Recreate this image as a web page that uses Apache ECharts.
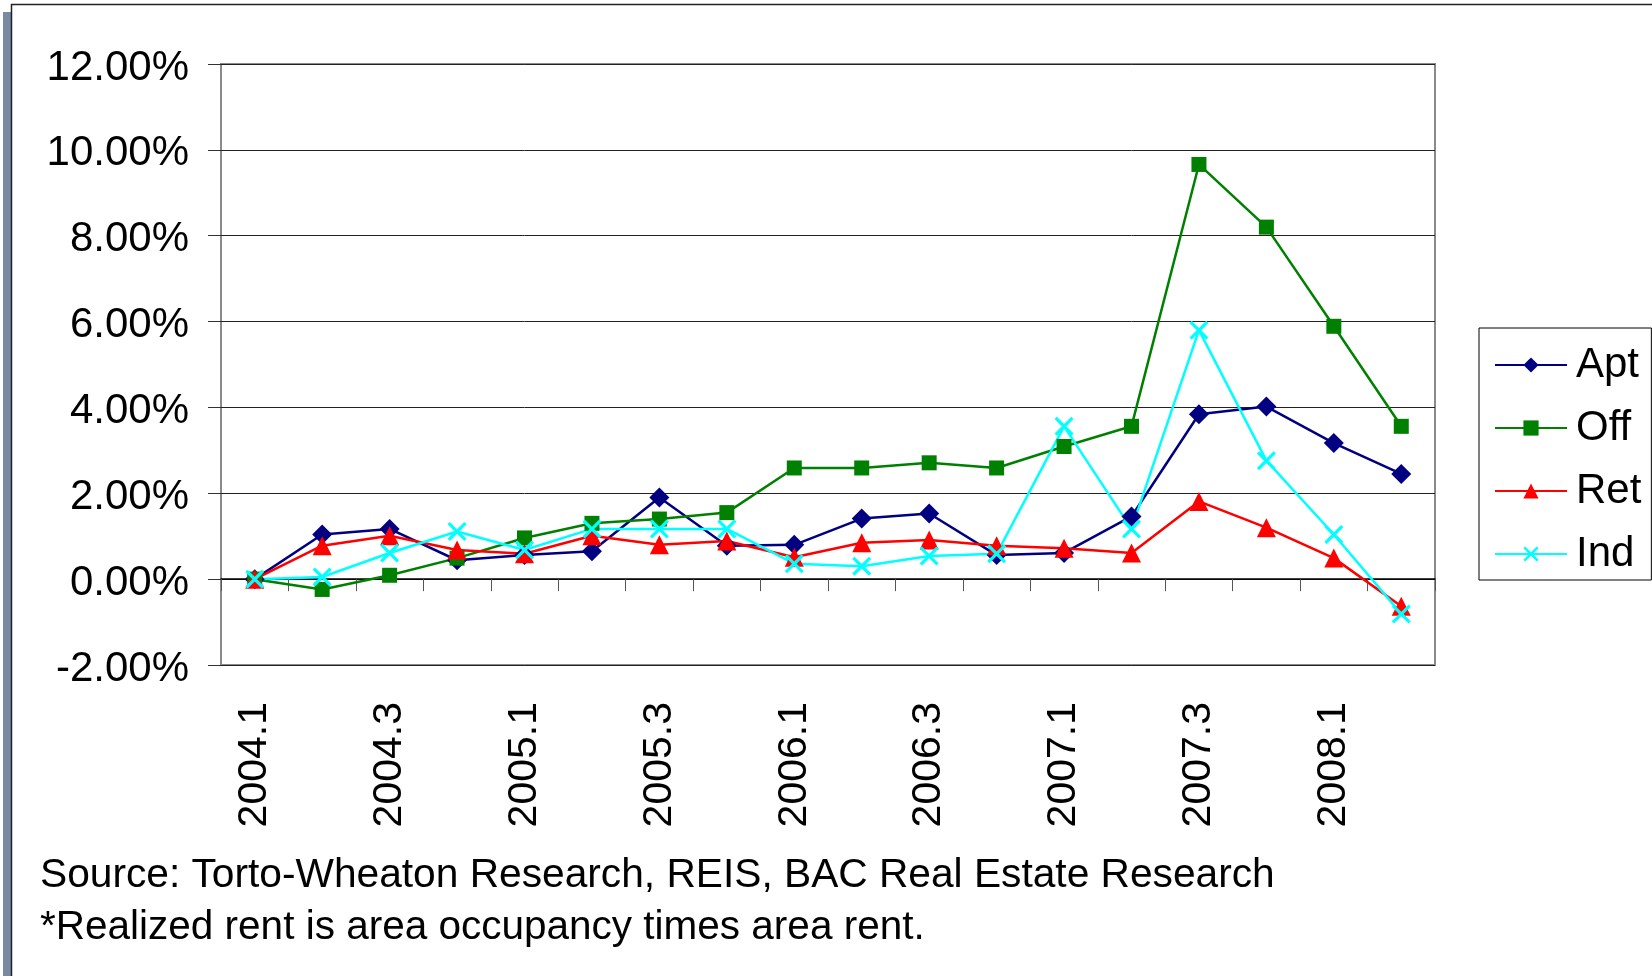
<!DOCTYPE html>
<html>
<head>
<meta charset="utf-8">
<script src="https://cdn.jsdelivr.net/npm/echarts@6/dist/echarts.min.js"></script>
<style>
  html, body { margin: 0; padding: 0; background: #fff; }
  #chart { width: 1652px; height: 976px; }
</style>
</head>
<body>
<div id="chart"></div>
<script>
// ---- data ----
const categories = ['2004.1','2004.2','2004.3','2004.4','2005.1','2005.2','2005.3','2005.4',
  '2006.1','2006.2','2006.3','2006.4','2007.1','2007.2','2007.3','2007.4','2008.1','2008.2'];
const aptValues = [0, 1.04, 1.17, 0.44, 0.56, 0.65, 1.90, 0.78, 0.80, 1.41, 1.53, 0.56, 0.61, 1.46, 3.84, 4.02, 3.17, 2.45];
const offValues = [0, -0.24, 0.09, 0.49, 0.96, 1.30, 1.40, 1.55, 2.59, 2.59, 2.71, 2.59, 3.09, 3.56, 9.66, 8.20, 5.89, 3.56];
const retValues = [0, 0.78, 1.01, 0.68, 0.59, 1.01, 0.80, 0.89, 0.51, 0.85, 0.91, 0.78, 0.72, 0.61, 1.81, 1.20, 0.49, -0.63];
const indValues = [0, 0.05, 0.61, 1.11, 0.68, 1.17, 1.17, 1.17, 0.36, 0.30, 0.54, 0.59, 3.56, 1.17, 5.80, 2.76, 1.04, -0.81];
const seriesNames = ['Apt', 'Off', 'Ret', 'Ind'];
const yMin = -2, yMax = 12, yStep = 2;
const notes = ['Source: Torto-Wheaton Research, REIS, BAC Real Estate Research',
               '*Realized rent is area occupancy times area rent.'];

const FONT = '"Liberation Sans", Arial, sans-serif';
const xSymbol = 'path://M0,1.2 L1.2,0 L5,3.8 L8.8,0 L10,1.2 L6.2,5 L10,8.8 L8.8,10 L5,6.2 L1.2,10 L0,8.8 L3.8,5 Z';

function mk(name, data, color, symbol, size) {
  return {
    name: name, type: 'line', data: data, xAxisIndex: 0,
    symbol: symbol, symbolSize: size, showSymbol: true,
    lineStyle: { color: color, width: 2.5 },
    itemStyle: { color: color },
    emphasis: { disabled: true },
    z: 3
  };
}

const chart = echarts.init(document.getElementById('chart'), null, { renderer: 'canvas' });
chart.setOption({
  animation: false,
  backgroundColor: '#fff',
  grid: {
    left: 221, top: 64, right: 217, bottom: 311,
    show: true, borderColor: '#8a8a8a', borderWidth: 2, backgroundColor: 'transparent'
  },
  legend: {
    orient: 'vertical',
    left: 1479, top: 328,
    data: seriesNames,
    itemWidth: 72, itemHeight: 19, itemGap: 21,
    padding: [16, 10, 5, 15],
    borderColor: '#000', borderWidth: 1,
    textStyle: { fontFamily: FONT, fontSize: 42, color: '#000', padding: [0, 0, 0, 4] }
  },
  xAxis: [
    {
      type: 'category', data: categories, position: 'bottom',
      boundaryGap: true,
      axisLine: { show: true, onZero: true, lineStyle: { color: '#000', width: 1.5 } },
      axisTick: { show: true, length: 12, alignWithLabel: false, interval: 0, lineStyle: { color: '#555', width: 1 } },
      axisLabel: { show: false },
      splitLine: { show: false }
    },
    {
      type: 'category', data: categories, position: 'bottom',
      boundaryGap: true,
      axisLine: { show: false, onZero: false },
      axisTick: { show: false },
      axisLabel: {
        show: true, interval: 1, rotate: 90, margin: 37,
        fontFamily: FONT, fontSize: 41, color: '#000'
      },
      splitLine: { show: false }
    }
  ],
  yAxis: {
    type: 'value', min: yMin, max: yMax, interval: yStep,
    axisLine: { show: false },
    axisTick: { show: true, inside: false, length: 13, lineStyle: { color: '#333' } },
    axisLabel: {
      margin: 32, fontFamily: FONT, fontSize: 42, color: '#000',
      verticalAlign: 'top', lineHeight: 8,
      formatter: function (v) { return v.toFixed(2) + '%'; }
    },
    splitLine: { show: true, lineStyle: { color: '#222', width: 1 } }
  },
  series: [
    mk('Apt', aptValues, '#000080', 'diamond', 20),
    mk('Off', offValues, '#008000', 'rect', 15),
    mk('Ret', retValues, '#ff0000', 'triangle', 19),
    mk('Ind', indValues, '#00ffff', xSymbol, 19)
  ],
  graphic: [
    { type: 'rect', shape: { x: 3, y: 12, width: 8, height: 970 }, style: { fill: '#7b8aa3' }, silent: true },
    { type: 'line', shape: { x1: 11.5, y1: 4, x2: 11.5, y2: 976 }, style: { stroke: '#222', lineWidth: 1.5 }, silent: true },
    { type: 'line', shape: { x1: 11, y1: 4.5, x2: 1652, y2: 4.5 }, style: { stroke: '#222', lineWidth: 1.5 }, silent: true },
    { type: 'text', left: 40, top: 855, style: { text: notes[0], font: '40.7px ' + FONT, fill: '#000' }, silent: true },
    { type: 'text', left: 40, top: 907, style: { text: notes[1], font: '40.5px ' + FONT, fill: '#000' }, silent: true }
  ]
});
</script>
</body>
</html>
